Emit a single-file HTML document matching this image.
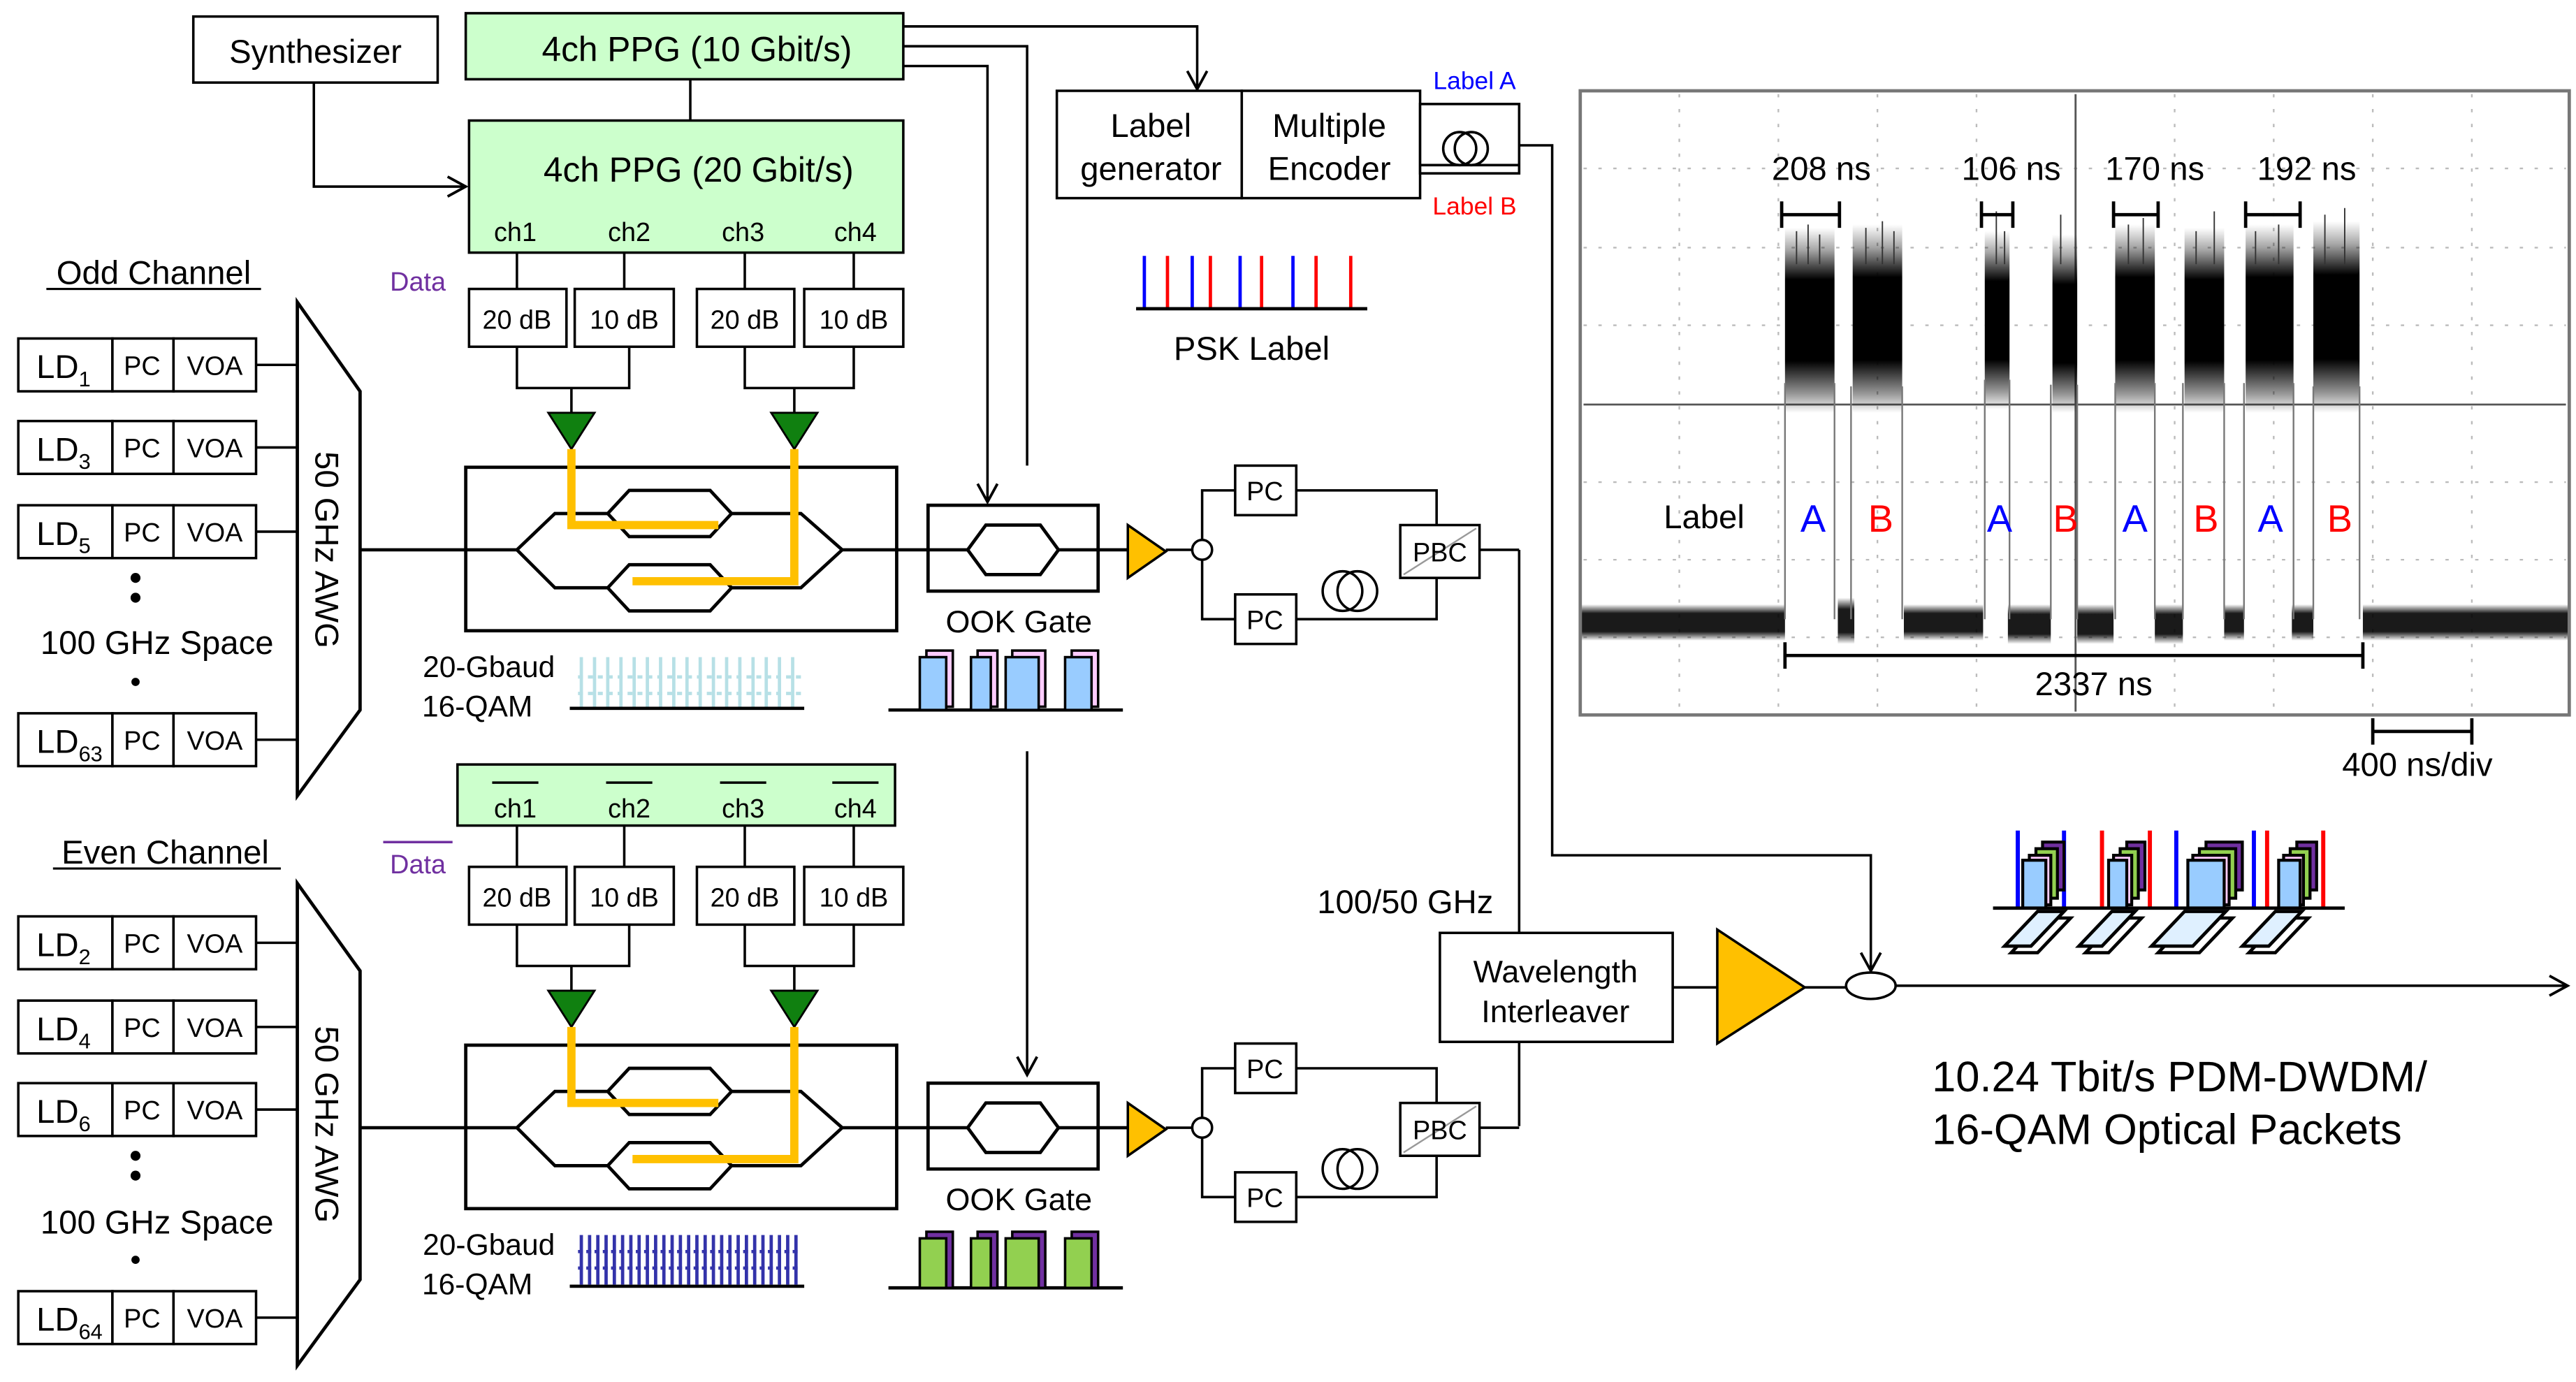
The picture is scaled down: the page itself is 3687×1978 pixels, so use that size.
<!DOCTYPE html>
<html><head><meta charset="utf-8">
<style>
html,body{margin:0;padding:0;background:#fff;}
svg{display:block;}
text{font-family:"Liberation Sans",Arial,sans-serif;fill:#000;}
</style></head>
<body>
<svg xmlns="http://www.w3.org/2000/svg" width="3687" height="1978" viewBox="0 0 1560 837">
<defs>
<linearGradient id="bg" x1="0" y1="0" x2="0" y2="1">
<stop offset="0" stop-color="#000" stop-opacity="0"/>
<stop offset="0.12" stop-color="#000" stop-opacity="0.35"/>
<stop offset="0.28" stop-color="#000" stop-opacity="1"/>
<stop offset="0.72" stop-color="#000" stop-opacity="1"/>
<stop offset="0.9" stop-color="#000" stop-opacity="0.4"/>
<stop offset="1" stop-color="#000" stop-opacity="0"/>
</linearGradient>
<linearGradient id="bl" x1="0" y1="0" x2="0" y2="1">
<stop offset="0" stop-color="#000" stop-opacity="0"/>
<stop offset="0.25" stop-color="#000" stop-opacity="0.9"/>
<stop offset="0.75" stop-color="#000" stop-opacity="0.9"/>
<stop offset="1" stop-color="#000" stop-opacity="0"/>
</linearGradient>
<marker id="ar" markerWidth="14" markerHeight="14" refX="12" refY="7" orient="auto" markerUnits="userSpaceOnUse">
<path d="M1,1 L12,7 L1,13" fill="none" stroke="#000" stroke-width="1.6"/>
</marker>
<g id="att">
<rect x="284" y="175" width="59" height="35" fill="#fff" stroke="#000" stroke-width="1.5"/>
<rect x="348" y="175" width="60" height="35" fill="#fff" stroke="#000" stroke-width="1.5"/>
<rect x="422" y="175" width="59" height="35" fill="#fff" stroke="#000" stroke-width="1.5"/>
<rect x="487" y="175" width="60" height="35" fill="#fff" stroke="#000" stroke-width="1.5"/>
<text x="313" y="199" font-size="16" text-anchor="middle">20 dB</text>
<text x="378" y="199" font-size="16" text-anchor="middle">10 dB</text>
<text x="451" y="199" font-size="16" text-anchor="middle">20 dB</text>
<text x="517" y="199" font-size="16" text-anchor="middle">10 dB</text>
<path d="M313,210 V235 H381 V210 M346,235 V250 M451,210 V235 H517 V210 M481,235 V250" fill="none" stroke="#000" stroke-width="1.5"/>
<polygon points="332,250 360,250 346,272" fill="#108010" stroke="#000" stroke-width="1.2"/>
<polygon points="467,250 495,250 481,272" fill="#108010" stroke="#000" stroke-width="1.2"/>
<rect x="282" y="283" width="261" height="99" fill="none" stroke="#000" stroke-width="2"/>
<path d="M218,333 H313 L336,311 H485 L510,333 L485,356 H336 L313,333 M510,333 H562" fill="none" stroke="#000" stroke-width="2"/>
<polygon points="368,311 381,297 430,297 443,311 430,325 381,325" fill="#fff" stroke="#000" stroke-width="2"/>
<polygon points="368,356 381,342 430,342 443,356 430,370 381,370" fill="#fff" stroke="#000" stroke-width="2"/>
<path d="M346,272 V318 H435 M481,272 V352 H383" fill="none" stroke="#ffc000" stroke-width="5"/>
<rect x="562" y="306" width="103" height="52" fill="#fff" stroke="#000" stroke-width="2"/>
<path d="M562,333 H586 M641,333 H683" stroke="#000" stroke-width="2"/>
<polygon points="586,333 597,318 630,318 641,333 630,348 597,348" fill="#fff" stroke="#000" stroke-width="2"/>
<polygon points="683,318 683,350 706,334" fill="#ffc000" stroke="#000" stroke-width="1.5"/>
<path d="M706,333 H722" stroke="#000" stroke-width="1.5"/>
<circle cx="728" cy="333" r="6" fill="#fff" stroke="#000" stroke-width="1.5"/>
<path d="M728,327 V297 H748 M728,339 V375 H748 M785,297 H870 V318 M785,375 H870 V350" fill="none" stroke="#000" stroke-width="1.5"/>
<rect x="748" y="282" width="37" height="30" fill="#fff" stroke="#000" stroke-width="1.5"/>
<rect x="748" y="360" width="37" height="30" fill="#fff" stroke="#000" stroke-width="1.5"/>
<text x="766" y="303" font-size="16" text-anchor="middle">PC</text>
<text x="766" y="381" font-size="16" text-anchor="middle">PC</text>
<circle cx="813" cy="358" r="12" fill="#fff" stroke="#000" stroke-width="1.5"/>
<circle cx="822" cy="358" r="12" fill="none" stroke="#000" stroke-width="1.5"/>
<rect x="848" y="318" width="48" height="32" fill="#fff" stroke="#000" stroke-width="1.5"/>
<line x1="850" y1="348" x2="894" y2="320" stroke="#999" stroke-width="1"/>
<text x="872" y="340" font-size="16" text-anchor="middle">PBC</text>
<path d="M896,333 H920" stroke="#000" stroke-width="1.5"/>
<text x="617" y="383" font-size="19" text-anchor="middle">OOK Gate</text>
<text x="296" y="410" font-size="18" text-anchor="middle">20-Gbaud</text>
<text x="289" y="434" font-size="18" text-anchor="middle">16-QAM</text>
<line x1="345" y1="429" x2="487" y2="429" stroke="#000" stroke-width="2"/>
<line x1="538" y1="430" x2="680" y2="430" stroke="#000" stroke-width="2"/>
</g>
<g id="ld">
<rect x="11" y="0" width="57" height="32" fill="#fff" stroke="#000" stroke-width="1.5"/>
<rect x="68" y="0" width="37" height="32" fill="#fff" stroke="#000" stroke-width="1.5"/>
<rect x="105" y="0" width="50" height="32" fill="#fff" stroke="#000" stroke-width="1.5"/>
<text x="86" y="22" font-size="16" text-anchor="middle">PC</text>
<text x="130" y="22" font-size="16" text-anchor="middle">VOA</text>
<line x1="155" y1="16" x2="180" y2="16" stroke="#000" stroke-width="1.5"/>
</g>
</defs>

<!-- Top block -->
<rect x="117" y="10" width="148" height="40" fill="#fff" stroke="#000" stroke-width="1.5"/>
<text x="191" y="38" font-size="20" text-anchor="middle">Synthesizer</text>
<rect x="282" y="8" width="265" height="40" fill="#ccffcc" stroke="#000" stroke-width="1.5"/>
<text x="422" y="37" font-size="21" text-anchor="middle">4ch PPG (10 Gbit/s)</text>
<line x1="418" y1="48" x2="418" y2="73" stroke="#000" stroke-width="1.5"/>
<rect x="284" y="73" width="263" height="80" fill="#ccffcc" stroke="#000" stroke-width="1.5"/>
<text x="423" y="110" font-size="21" text-anchor="middle">4ch PPG (20 Gbit/s)</text>
<text x="312" y="146" font-size="16" text-anchor="middle">ch1</text>
<text x="381" y="146" font-size="16" text-anchor="middle">ch2</text>
<text x="450" y="146" font-size="16" text-anchor="middle">ch3</text>
<text x="518" y="146" font-size="16" text-anchor="middle">ch4</text>
<path d="M313,153 V175 M378,153 V175 M451,153 V175 M517,153 V175" stroke="#000" stroke-width="1.5"/>
<path d="M190,50 V113 H282" fill="none" stroke="#000" stroke-width="1.5" marker-end="url(#ar)"/>
<path d="M547,16 H725 V54" fill="none" stroke="#000" stroke-width="1.5" marker-end="url(#ar)"/>
<path d="M547,28 H622 V282" fill="none" stroke="#000" stroke-width="1.5"/>
<path d="M547,40 H598 V304" fill="none" stroke="#000" stroke-width="1.5" marker-end="url(#ar)"/>
<path d="M622,455 V651" fill="none" stroke="#000" stroke-width="1.5" marker-end="url(#ar)"/>
<text x="253" y="176" font-size="16" text-anchor="middle" style="fill:#7030a0">Data</text>

<use href="#att"/>

<!-- Label generator -->
<rect x="640" y="55" width="112" height="65" fill="#fff" stroke="#000" stroke-width="1.5"/>
<rect x="752" y="55" width="108" height="65" fill="#fff" stroke="#000" stroke-width="1.5"/>
<text x="697" y="83" font-size="20" text-anchor="middle">Label</text>
<text x="697" y="109" font-size="20" text-anchor="middle">generator</text>
<text x="805" y="83" font-size="20" text-anchor="middle">Multiple</text>
<text x="805" y="109" font-size="20" text-anchor="middle">Encoder</text>
<rect x="860" y="63" width="60" height="42" fill="#fff" stroke="#000" stroke-width="1.5"/>
<circle cx="884" cy="90" r="10" fill="none" stroke="#000" stroke-width="1.5"/>
<circle cx="891" cy="90" r="10" fill="none" stroke="#000" stroke-width="1.5"/>
<line x1="860" y1="100" x2="920" y2="100" stroke="#000" stroke-width="1.5"/>
<text x="893" y="54" font-size="15" text-anchor="middle" style="fill:#0000ff">Label A</text>
<text x="893" y="130" font-size="15" text-anchor="middle" style="fill:#ff0000">Label B</text>
<path d="M920,88 H940 V518 H1133 V588" fill="none" stroke="#000" stroke-width="1.5" marker-end="url(#ar)"/>

<!-- PSK label -->
<g stroke-width="2">
<line x1="693" y1="155" x2="693" y2="187" stroke="#0000ff"/>
<line x1="707" y1="155" x2="707" y2="187" stroke="#ff0000"/>
<line x1="722" y1="155" x2="722" y2="187" stroke="#0000ff"/>
<line x1="733" y1="155" x2="733" y2="187" stroke="#ff0000"/>
<line x1="751" y1="155" x2="751" y2="187" stroke="#0000ff"/>
<line x1="764" y1="155" x2="764" y2="187" stroke="#ff0000"/>
<line x1="783" y1="155" x2="783" y2="187" stroke="#0000ff"/>
<line x1="797" y1="155" x2="797" y2="187" stroke="#ff0000"/>
<line x1="818" y1="155" x2="818" y2="187" stroke="#ff0000"/>
</g>
<line x1="688" y1="187" x2="828" y2="187" stroke="#000" stroke-width="2"/>
<text x="758" y="218" font-size="20" text-anchor="middle">PSK Label</text>

<!-- Top constellation & packets -->
<g stroke="#b7e0e6" stroke-width="2">
<path d="M352,398V428M360,398V428M368,398V428M376,398V428M384,398V428M392,398V428M400,398V428M408,398V428M416,398V428M424,398V428M432,398V428M440,398V428M448,398V428M456,398V428M464,398V428M472,398V428M480,398V428"/>
<path d="M350,410H485M350,420H485" stroke-dasharray="3,3"/>
</g>
<g stroke="#000" stroke-width="1.5">
<rect x="561" y="394" width="16" height="34" fill="#ffccff"/><rect x="557" y="398" width="16" height="32" fill="#99ccff"/>
<rect x="592" y="394" width="12" height="34" fill="#ffccff"/><rect x="588" y="398" width="12" height="32" fill="#99ccff"/>
<rect x="613" y="394" width="20" height="34" fill="#ffccff"/><rect x="609" y="398" width="20" height="32" fill="#99ccff"/>
<rect x="649" y="394" width="16" height="34" fill="#ffccff"/><rect x="645" y="398" width="16" height="32" fill="#99ccff"/>
</g>

<!-- Bottom block -->
<rect x="277" y="463" width="265" height="37" fill="#ccffcc" stroke="#000" stroke-width="1.5"/>
<g stroke="#000" stroke-width="1.5">
<path d="M298,474H326M367,474H395M436,474H464M504,474H532"/>
<path d="M232,510H274" stroke="#7030a0"/>
<path d="M313,500 V525 M378,500 V525 M451,500 V525 M517,500 V525"/>
</g>
<text x="312" y="495" font-size="16" text-anchor="middle">ch1</text>
<text x="381" y="495" font-size="16" text-anchor="middle">ch2</text>
<text x="450" y="495" font-size="16" text-anchor="middle">ch3</text>
<text x="518" y="495" font-size="16" text-anchor="middle">ch4</text>
<text x="253" y="529" font-size="16" text-anchor="middle" style="fill:#7030a0">Data</text>
<use href="#att" transform="translate(0,350)"/>
<g stroke="#3333aa" stroke-width="2">
<path d="M352,748V778M357,748V778M362,748V778M367,748V778M372,748V778M377,748V778M382,748V778M387,748V778M392,748V778M397,748V778M402,748V778M407,748V778M412,748V778M417,748V778M422,748V778M427,748V778M432,748V778M437,748V778M442,748V778M447,748V778M452,748V778M457,748V778M462,748V778M467,748V778M472,748V778M477,748V778M482,748V778"/>
<path d="M350,758H485M350,768H485" stroke-dasharray="3,2"/>
</g>
<g stroke="#000" stroke-width="1.5">
<rect x="561" y="746" width="16" height="34" fill="#7030a0"/><rect x="557" y="750" width="16" height="30" fill="#92d050"/>
<rect x="592" y="746" width="12" height="34" fill="#7030a0"/><rect x="588" y="750" width="12" height="30" fill="#92d050"/>
<rect x="613" y="746" width="20" height="34" fill="#7030a0"/><rect x="609" y="750" width="20" height="30" fill="#92d050"/>
<rect x="649" y="746" width="16" height="34" fill="#7030a0"/><rect x="645" y="750" width="16" height="30" fill="#92d050"/>
</g>

<!-- Left LD columns -->
<text x="93" y="172" font-size="20" text-anchor="middle">Odd Channel</text>
<line x1="28" y1="175" x2="158" y2="175" stroke="#000" stroke-width="1.3"/>
<use href="#ld" y="205"/><use href="#ld" y="255"/><use href="#ld" y="306"/><use href="#ld" y="432"/>
<text x="22" y="229" font-size="20">LD<tspan font-size="13" dy="5">1</tspan></text>
<text x="22" y="279" font-size="20">LD<tspan font-size="13" dy="5">3</tspan></text>
<text x="22" y="330" font-size="20">LD<tspan font-size="13" dy="5">5</tspan></text>
<text x="22" y="456" font-size="20">LD<tspan font-size="13" dy="5">63</tspan></text>
<circle cx="82" cy="350" r="3"/><circle cx="82" cy="362" r="3"/><circle cx="82" cy="413" r="2.5"/>
<text x="95" y="396" font-size="20" text-anchor="middle">100 GHz Space</text>
<polygon points="180,183 218,237 218,430 180,482" fill="#fff" stroke="#000" stroke-width="2"/>
<text transform="translate(191,333) rotate(90)" font-size="20" text-anchor="middle">50 GHz AWG</text>

<text x="100" y="523" font-size="20" text-anchor="middle">Even Channel</text>
<line x1="32" y1="526" x2="170" y2="526" stroke="#000" stroke-width="1.3"/>
<use href="#ld" y="555"/><use href="#ld" y="606"/><use href="#ld" y="656"/><use href="#ld" y="782"/>
<text x="22" y="579" font-size="20">LD<tspan font-size="13" dy="5">2</tspan></text>
<text x="22" y="630" font-size="20">LD<tspan font-size="13" dy="5">4</tspan></text>
<text x="22" y="680" font-size="20">LD<tspan font-size="13" dy="5">6</tspan></text>
<text x="22" y="806" font-size="20">LD<tspan font-size="13" dy="5">64</tspan></text>
<circle cx="82" cy="700" r="3"/><circle cx="82" cy="712" r="3"/><circle cx="82" cy="763" r="2.5"/>
<text x="95" y="747" font-size="20" text-anchor="middle">100 GHz Space</text>
<polygon points="180,535 218,588 218,775 180,827" fill="#fff" stroke="#000" stroke-width="2"/>
<text transform="translate(191,681) rotate(90)" font-size="20" text-anchor="middle">50 GHz AWG</text>

<!-- Interleaver / output -->
<path d="M920,333 V565 M920,682 V631" fill="none" stroke="#000" stroke-width="1.5"/>
<text x="851" y="553" font-size="20" text-anchor="middle">100/50 GHz</text>
<rect x="872" y="565" width="141" height="66" fill="#fff" stroke="#000" stroke-width="1.5"/>
<text x="942" y="595" font-size="19" text-anchor="middle">Wavelength</text>
<text x="942" y="619" font-size="19" text-anchor="middle">Interleaver</text>
<path d="M1013,598 H1040 M1093,598 H1118" stroke="#000" stroke-width="1.5"/>
<polygon points="1040,563 1040,632 1093,598" fill="#ffc000" stroke="#000" stroke-width="1.5"/>
<ellipse cx="1133" cy="597" rx="15" ry="8" fill="#fff" stroke="#000" stroke-width="1.5"/>
<path d="M1148,597 H1555" stroke="#000" stroke-width="1.5" marker-end="url(#ar)"/>
<text x="1170" y="661" font-size="26">10.24 Tbit/s PDM-DWDM/</text>
<text x="1170" y="693" font-size="26">16-QAM Optical Packets</text>

<!-- Packets bottom right -->
<g stroke-width="2.5">
<line x1="1222" y1="503" x2="1222" y2="550" stroke="#0000ff"/><line x1="1250" y1="503" x2="1250" y2="550" stroke="#0000ff"/>
<line x1="1273" y1="503" x2="1273" y2="550" stroke="#ff0000"/><line x1="1302" y1="503" x2="1302" y2="550" stroke="#ff0000"/>
<line x1="1318" y1="503" x2="1318" y2="550" stroke="#0000ff"/><line x1="1365" y1="503" x2="1365" y2="550" stroke="#0000ff"/>
<line x1="1373" y1="503" x2="1373" y2="550" stroke="#ff0000"/><line x1="1407" y1="503" x2="1407" y2="550" stroke="#ff0000"/>
</g>
<g stroke="#000" stroke-width="1.8">
<rect x="1237" y="510" width="13" height="29" fill="#7030a0"/><rect x="1233" y="514" width="13" height="30" fill="#92d050"/><rect x="1229" y="518" width="13" height="30" fill="#ffccff"/><rect x="1225" y="521" width="14" height="29" fill="#99ccff"/>
<rect x="1288" y="510" width="11" height="29" fill="#7030a0"/><rect x="1284" y="514" width="11" height="30" fill="#92d050"/><rect x="1280" y="518" width="11" height="30" fill="#ffccff"/><rect x="1277" y="521" width="11" height="29" fill="#99ccff"/>
<rect x="1336" y="510" width="22" height="29" fill="#7030a0"/><rect x="1332" y="514" width="22" height="30" fill="#92d050"/><rect x="1328" y="518" width="22" height="30" fill="#ffccff"/><rect x="1325" y="521" width="22" height="29" fill="#99ccff"/>
<rect x="1391" y="510" width="12" height="29" fill="#7030a0"/><rect x="1387" y="514" width="12" height="30" fill="#92d050"/><rect x="1383" y="518" width="12" height="30" fill="#ffccff"/><rect x="1380" y="521" width="13" height="29" fill="#99ccff"/>
</g>
<line x1="1207" y1="550" x2="1420" y2="550" stroke="#000" stroke-width="2"/>
<g stroke="#000" stroke-width="2" fill="#fff">
<polygon points="1218,577 1238,556 1254,556 1234,577"/><polygon points="1214,573 1234,552 1250,552 1230,573" fill="#dff0ff"/>
<polygon points="1263,577 1283,556 1297,556 1277,577"/><polygon points="1259,573 1279,552 1293,552 1273,573" fill="#dff0ff"/>
<polygon points="1307,577 1327,556 1352,556 1332,577"/><polygon points="1303,573 1323,552 1348,552 1328,573" fill="#dff0ff"/>
<polygon points="1362,577 1382,556 1398,556 1378,577"/><polygon points="1358,573 1378,552 1394,552 1374,573" fill="#dff0ff"/>
</g>

<!-- Oscilloscope -->
<rect x="957" y="55" width="599" height="378" fill="#fff" stroke="#777" stroke-width="2"/>
<g stroke="#bbb" stroke-width="1" stroke-dasharray="2,7">
<path d="M1017,57V431M1077,57V431M1137,57V431M1197,57V431M1317,57V431M1377,57V431M1437,57V431M1497,57V431"/>
<path d="M959,102H1554M959,150H1554M959,197H1554M959,292H1554M959,339H1554M959,386H1554"/>
</g>
<path d="M1257,57V431 M959,245H1554" stroke="#555" stroke-width="1.2"/>
<!-- baseline noise -->
<g fill="url(#bl)">
<rect x="958" y="366" width="123" height="22"/>
<rect x="1431" y="366" width="124" height="22"/>
<rect x="1113" y="362" width="10" height="28"/>
<rect x="1153" y="366" width="48" height="22"/>
<rect x="1216" y="366" width="26" height="24"/>
<rect x="1258" y="366" width="22" height="24"/>
<rect x="1305" y="366" width="17" height="24"/>
<rect x="1347" y="366" width="12" height="22"/>
<rect x="1388" y="366" width="13" height="22"/>
</g>
<!-- bursts -->
<g fill="url(#bg)">
<rect x="1081" y="138" width="30" height="112"/>
<rect x="1122" y="136" width="30" height="114"/>
<rect x="1202" y="140" width="15" height="108"/>
<rect x="1243" y="142" width="15" height="108"/>
<rect x="1281" y="136" width="24" height="114"/>
<rect x="1323" y="138" width="24" height="112"/>
<rect x="1360" y="136" width="29" height="114"/>
<rect x="1401" y="134" width="28" height="116"/>
</g>
<g stroke="#333" stroke-width="0.8">
<path d="M1088,140V160M1095,136V160M1102,142V160M1130,138V160M1140,134V160M1147,140V160M1209,128V160M1214,140V160M1248,130V160M1289,136V160M1298,132V160M1330,140V160M1341,128V160M1366,140V160M1380,136V160M1408,130V160M1420,126V160"/>
</g>
<path d="M1081,232V375 M1111,232V375 M1121,234V375 M1152,234V375 M1202,230V375 M1217,230V375 M1242,233V375 M1258,233V375 M1281,232V375 M1305,232V375 M1322,232V375 M1347,232V375 M1359,232V375 M1389,232V375 M1401,234V375 M1429,234V375" stroke="#777" stroke-width="1"/>
<g stroke="#000" stroke-width="2" fill="none">
<path d="M1079,130H1114M1079,122V138M1114,122V138"/>
<path d="M1200,130H1219M1200,122V138M1219,122V138"/>
<path d="M1280,130H1307M1280,122V138M1307,122V138"/>
<path d="M1360,130H1393M1360,122V138M1393,122V138"/>
<path d="M1081,397H1431M1081,389V405M1431,389V405"/>
<path d="M1437,443H1497M1437,435V451M1497,435V451"/>
</g>
<text x="1103" y="109" font-size="20" text-anchor="middle">208 ns</text>
<text x="1218" y="109" font-size="20" text-anchor="middle">106 ns</text>
<text x="1305" y="109" font-size="20" text-anchor="middle">170 ns</text>
<text x="1397" y="109" font-size="20" text-anchor="middle">192 ns</text>
<text x="1032" y="320" font-size="20" text-anchor="middle">Label</text>
<g font-size="23" text-anchor="middle">
<text x="1098" y="322" style="fill:#0000ff">A</text>
<text x="1139" y="322" style="fill:#ff0000">B</text>
<text x="1211" y="322" style="fill:#0000ff">A</text>
<text x="1251" y="322" style="fill:#ff0000">B</text>
<text x="1293" y="322" style="fill:#0000ff">A</text>
<text x="1336" y="322" style="fill:#ff0000">B</text>
<text x="1375" y="322" style="fill:#0000ff">A</text>
<text x="1417" y="322" style="fill:#ff0000">B</text>
</g>
<text x="1268" y="421" font-size="20" text-anchor="middle">2337 ns</text>
<text x="1464" y="470" font-size="20" text-anchor="middle">400 ns/div</text>
</svg>
</body></html>
